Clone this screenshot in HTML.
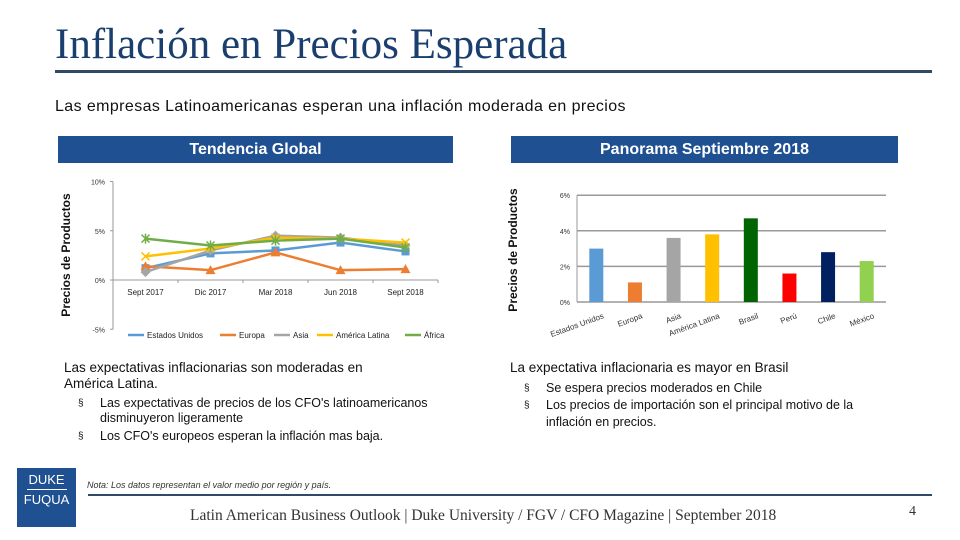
<!DOCTYPE html>
<html><head><meta charset="utf-8"><style>
body{margin:0;width:960px;height:540px;background:#fff;position:relative;overflow:hidden;font-family:"Liberation Sans",sans-serif}
.a{position:absolute}
.ban{position:absolute;background:#1f5091;color:#fff;font-weight:bold;font-size:16px;text-align:center;line-height:27px;top:136px;height:27px}
ul{margin:0;padding-left:36px;list-style:none}
li{position:relative}
li:before{content:"§";position:absolute;left:-22px;font-size:10px}
</style></head><body>
<div class="a" style="left:55px;top:20px;font-family:'Liberation Serif',serif;font-size:43px;color:#1a3f6e">Inflación en Precios Esperada</div>
<div class="a" style="left:55px;top:70px;width:877px;height:3px;background:#2e4a66"></div>
<div class="a" style="left:55px;top:98px;font-size:16px;letter-spacing:0.4px;color:#111">Las empresas Latinoamericanas esperan una inflación moderada en precios</div>
<div class="ban" style="left:58px;width:395px">Tendencia Global</div>
<div class="ban" style="left:511px;width:387px">Panorama Septiembre 2018</div>

<svg class="a" style="left:0;top:0" width="960" height="540">
<g id="lc"></g>
<g id="bc"></g>
</svg>

<div class="a" style="left:64px;top:360px;width:350px;font-size:13.5px;color:#111;line-height:16px">
<div style="margin-bottom:4px">Las expectativas inflacionarias son moderadas en América Latina.</div>
<ul style="font-size:12.5px;line-height:15px;width:360px"><li>Las expectativas de precios de los CFO's latinoamericanos disminuyeron ligeramente</li><li style="margin-top:3px">Los CFO's europeos esperan la inflación mas baja.</li></ul>
</div>
<div class="a" style="left:510px;top:360px;width:380px;font-size:13.5px;color:#111;line-height:16px">
<div style="margin-bottom:4px">La expectativa inflacionaria es mayor en Brasil</div>
<ul style="font-size:12.5px;line-height:17px"><li>Se espera precios moderados en Chile</li><li>Los precios de importación son el principal motivo de la inflación en precios.</li></ul>
</div>
<div class="a" style="left:17px;top:468px;width:59px;height:59px;background:#1f5091;color:#fff;font-size:13px;text-align:center;line-height:15px;padding-top:4px;box-sizing:border-box">DUKE<div style="border-top:1px solid #fff;width:40px;margin:2px auto"></div>FUQUA</div>
<div class="a" style="left:87px;top:480px;font-size:9px;font-style:italic;color:#333">Nota: Los datos representan el valor medio por región y país.</div>
<div class="a" style="left:88px;top:494px;width:844px;height:2px;background:#2e4a66"></div>
<div class="a" style="left:190px;top:507px;font-family:'Liberation Serif',serif;font-size:15.5px;color:#333">Latin American Business Outlook | Duke University / FGV / CFO Magazine | September 2018</div>
<div class="a" style="left:909px;top:504px;font-family:'Liberation Serif',serif;font-size:14px;color:#333">4</div>

<script>
const ns="http://www.w3.org/2000/svg";
const lineCats=["Sept 2017","Dic 2017","Mar 2018","Jun 2018","Sept 2018"];
const lineNames=["Estados Unidos","Europa","Asia","América Latina","África"];
const lineColors=["#5b9bd5","#ed7d31","#a5a5a5","#ffc000","#70ad47"];
const usVals=[1.2,2.7,3.0,3.8,2.9];
const euVals=[1.4,1.0,2.8,1.0,1.1];
const asiaVals=[0.8,3.0,4.5,4.3,3.5];
const latVals=[2.4,3.2,4.3,4.2,3.8];
const afVals=[4.2,3.5,4.0,4.2,3.3];
const lineTicks=[10,5,0,-5];
const barCats=["Estados Unidos","Europa","Asia","América Latina","Brasil","Perú","Chile","México"];
const barVals=[3.0,1.1,3.6,3.8,4.7,1.6,2.8,2.3];
const barColors=["#5b9bd5","#ed7d31","#a5a5a5","#ffc000","#006400","#ff0000","#002060","#92d050"];
const barTicks=[0,2,4,6];
function el(p,t,a,txt){const e=document.createElementNS(ns,t);for(const k in a)e.setAttribute(k,a[k]);if(txt!=null)e.textContent=txt;p.appendChild(e);return e;}
const lc=document.getElementById('lc');
const lx0=113,lx1=438,ly=v=>280-v*9.85;
const lbw=(lx1-lx0)/lineCats.length, lxc=i=>lx0+lbw*(i+0.5);
let t=el(lc,'text',{x:70,y:255,'font-size':12,'font-weight':'bold',fill:'#111',transform:'rotate(-90 70 255)','text-anchor':'middle'},'Precios de Productos');

el(lc,'line',{x1:lx0,y1:ly(10),x2:lx0,y2:ly(-5),stroke:'#999'});
el(lc,'line',{x1:lx0,y1:ly(0),x2:lx1,y2:ly(0),stroke:'#999'});
lineTicks.forEach(v=>{const e=el(lc,'text',{x:lx0-8,y:ly(v)+3,'font-size':7,fill:'#333','text-anchor':'end'},v+'%');

el(lc,'line',{x1:lx0-3,y1:ly(v),x2:lx0,y2:ly(v),stroke:'#999'});});
lineCats.forEach((c,i)=>{el(lc,'line',{x1:lx0+lbw*(i+1),y1:ly(0),x2:lx0+lbw*(i+1),y2:ly(0)+3,stroke:'#999'});
const e=el(lc,'text',{x:lxc(i),y:295,'font-size':8,fill:'#222','text-anchor':'middle'},c);
});
[usVals,euVals,asiaVals,latVals,afVals].forEach((s,k)=>{
const p=el(lc,'polyline',{points:s.map((v,i)=>lxc(i)+','+ly(v)).join(' '),fill:'none',stroke:lineColors[k],'stroke-width':2.5});

s.forEach((v,i)=>{const x=lxc(i),y=ly(v);
if(k==4){el(lc,'path',{d:`M${x-4},${y-4}L${x+4},${y+4}M${x-4},${y+4}L${x+4},${y-4}M${x},${y-5}V${y+5}`,stroke:lineColors[k],'stroke-width':1.5});}
else if(k==3){el(lc,'path',{d:`M${x-4},${y-4}L${x+4},${y+4}M${x-4},${y+4}L${x+4},${y-4}`,stroke:lineColors[k],'stroke-width':1.5});}
else if(k==1){el(lc,'path',{d:`M${x},${y-5}L${x+5},${y+4}L${x-5},${y+4}Z`,fill:lineColors[k]});}
else if(k==2){el(lc,'path',{d:`M${x},${y-5}L${x+5},${y}L${x},${y+5}L${x-5},${y}Z`,fill:lineColors[k]});}
else el(lc,'rect',{x:x-4,y:y-4,width:8,height:8,fill:lineColors[k]});});});
const legX=[128,220,274,317,405];
lineNames.forEach((n,k)=>{const lx=legX[k];
el(lc,'line',{x1:lx,y1:335,x2:lx+16,y2:335,stroke:lineColors[k],'stroke-width':2.5});
const e=el(lc,'text',{x:lx+19,y:338,'font-size':8,fill:'#222'},n);
});
const bc=document.getElementById('bc');
const bx0=577,bx1=886,by=v=>302-v*17.8;
const bbw=(bx1-bx0)/barCats.length;
t=el(bc,'text',{x:517,y:250,'font-size':12,'font-weight':'bold',fill:'#111',transform:'rotate(-90 517 250)','text-anchor':'middle'},'Precios de Productos');

barTicks.forEach(v=>{el(bc,'line',{x1:bx0,y1:by(v),x2:bx1,y2:by(v),stroke:'#999','stroke-width':1.5});
const e=el(bc,'text',{x:bx0-7,y:by(v)+3,'font-size':7,fill:'#333','text-anchor':'end'},v+'%');
});
el(bc,'line',{x1:bx0,y1:by(6),x2:bx0,y2:by(0),stroke:'#999'});
barCats.forEach((c,i)=>{const x=bx0+bbw*(i+0.5);
const r=el(bc,'rect',{x:x-7,y:by(barVals[i]),width:14,height:by(0)-by(barVals[i]),fill:barColors[i]});

const e=el(bc,'text',{x:x+8,y:318,'font-size':8,fill:'#333','text-anchor':'end',transform:`rotate(-20 ${x+8} 318)`},c);
});
</script>
</body></html>
